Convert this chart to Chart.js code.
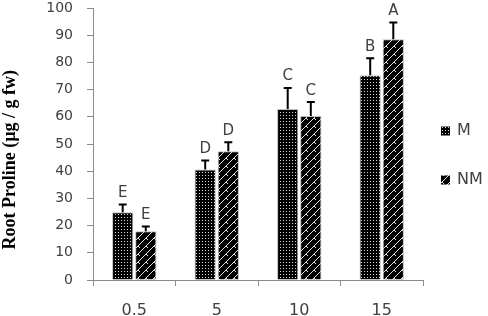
<!DOCTYPE html>
<html>
<head>
<meta charset="utf-8">
<script src="https://cdn.jsdelivr.net/npm/chart.js@4.4.1/dist/chart.umd.min.js"></script>
<style>
  html, body { margin: 0; padding: 0; background: #fff; }
  #wrap { width: 488px; height: 316px; }
</style>
</head>
<body>
<div id="wrap"><canvas id="myChart" width="488" height="316"></canvas></div>
<script>
const categories = ['0.5', '5', '10', '15'];
const mValues = [24.9, 40.6, 62.9, 75.3];
const nmValues = [17.9, 47.3, 60.3, 88.5];
const mErrors = [2.9, 3.3, 7.7, 6.2];
const nmErrors = [1.8, 3.3, 5.1, 6.2];
const mLetters = ['E', 'D', 'C', 'B'];
const nmLetters = ['E', 'D', 'C', 'A'];
const yTicks = [0, 10, 20, 30, 40, 50, 60, 70, 80, 90, 100];

// bar fill textures
function dotPattern() {
	const c = document.createElement('canvas');
	c.width = 3; c.height = 3;
	const g = c.getContext('2d');
	g.fillStyle = '#000';
	g.fillRect(0, 0, 3, 3);
	g.fillStyle = '#d8d8d8';
	g.fillRect(1, 1, 1, 1);
	return g.createPattern(c, 'repeat');
}

function zigzagPattern() {
	const c = document.createElement('canvas');
	c.width = 8; c.height = 8;
	const g = c.getContext('2d');
	g.fillStyle = '#000';
	g.fillRect(0, 0, 8, 8);
	g.strokeStyle = '#e0e0e0';
	g.lineWidth = 1;
	g.beginPath();
	g.moveTo(0, 8); g.lineTo(8, 0);
	g.moveTo(-4, 4); g.lineTo(4, -4);
	g.moveTo(4, 12); g.lineTo(12, 4);
	g.moveTo(2, 6); g.lineTo(4, 8);
	g.stroke();
	return g.createPattern(c, 'repeat');
}

const errorBars = {
	id: 'errorBars',
	afterDatasetsDraw(chart) {
		const ctx = chart.ctx;
		const y = chart.scales.y;
		const errs = [mErrors, nmErrors];
		const letters = [mLetters, nmLetters];
		chart.data.datasets.forEach((ds, di) => {
			const meta = chart.getDatasetMeta(di);
			meta.data.forEach((bar, i) => {
				const top = y.getPixelForValue(ds.data[i] + errs[di][i]);
				ctx.save();
				ctx.strokeStyle = '#000';
				ctx.lineWidth = 2;
				ctx.beginPath();
				ctx.moveTo(bar.x, bar.y);
				ctx.lineTo(bar.x, top);
				ctx.moveTo(bar.x - 4, top);
				ctx.lineTo(bar.x + 4, top);
				ctx.stroke();
				ctx.fillStyle = '#404040';
				ctx.font = '15px "DejaVu Sans"';
				ctx.textAlign = 'center';
				ctx.textBaseline = 'bottom';
				ctx.fillText(letters[di][i], bar.x, top - 4);
				ctx.restore();
			});
		});
	}
};

// legend on the right, drawn by hand for its wide row spacing
const sideLegend = {
	id: 'sideLegend',
	afterDraw(chart) {
		const ctx = chart.ctx;
		const x0 = chart.chartArea.right + 18;
		const rows = [131, 180];
		chart.data.datasets.forEach((ds, i) => {
			const cy = rows[i];
			ctx.save();
			ctx.fillStyle = ds.backgroundColor;
			ctx.fillRect(x0, cy - 4.5, 9, 9);
			ctx.fillStyle = '#404040';
			ctx.font = '16px "DejaVu Sans"';
			ctx.textAlign = 'left';
			ctx.textBaseline = 'middle';
			ctx.fillText(ds.label, x0 + 16, cy);
			ctx.restore();
		});
	}
};

const ctx = document.getElementById('myChart').getContext('2d');
new Chart(ctx, {
	type: 'bar',
	data: {
		labels: categories,
		datasets: [{
			label: 'M',
			data: mValues,
			backgroundColor: dotPattern(),
			borderColor: '#bdbdbd',
			borderWidth: 1,
			categoryPercentage: 0.56,
			barPercentage: 0.92
		}, {
			label: 'NM',
			data: nmValues,
			backgroundColor: zigzagPattern(),
			borderColor: '#bdbdbd',
			borderWidth: 1,
			categoryPercentage: 0.56,
			barPercentage: 0.92
		}]
	},
	options: {
		responsive: false,
		animation: false,
		layout: { padding: { top: 0, right: 65, bottom: 0, left: 0 } },
		plugins: {
			tooltip: { enabled: false },
			legend: { display: false }
		},
		scales: {
			x: {
				afterFit: s => { s.height = 36; },
				grid: { drawOnChartArea: false, tickLength: 6, color: '#8c8c8c' },
				border: { color: '#8c8c8c' },
				ticks: {
					color: '#404040',
					padding: 20,
					font: { family: 'DejaVu Sans', size: 16, lineHeight: 0.625 }
				}
			},
			y: {
				min: 0,
				max: 100,
				afterBuildTicks: axis => { axis.ticks = yTicks.map(v => ({ value: v })); },
				afterFit: s => { s.width = 93; s.paddingTop = 8; s.paddingBottom = 8; },
				grid: { drawOnChartArea: false, tickLength: 6, color: '#8c8c8c' },
				border: { color: '#8c8c8c' },
				ticks: {
					color: '#404040',
					padding: 14,
					font: { family: 'DejaVu Sans', size: 14 }
				},
				title: {
					display: true,
					text: 'Root Proline (µg / g fw)\u00a0\u00a0\u00a0\u00a0\u00a0\u00a0\u00a0',
					color: '#000',
					padding: { top: 0, bottom: 11 },
					font: { family: 'Liberation Serif', size: 18, weight: 'bold' }
				}
			}
		}
	},
	plugins: [errorBars, sideLegend]
});
</script>
</body>
</html>
